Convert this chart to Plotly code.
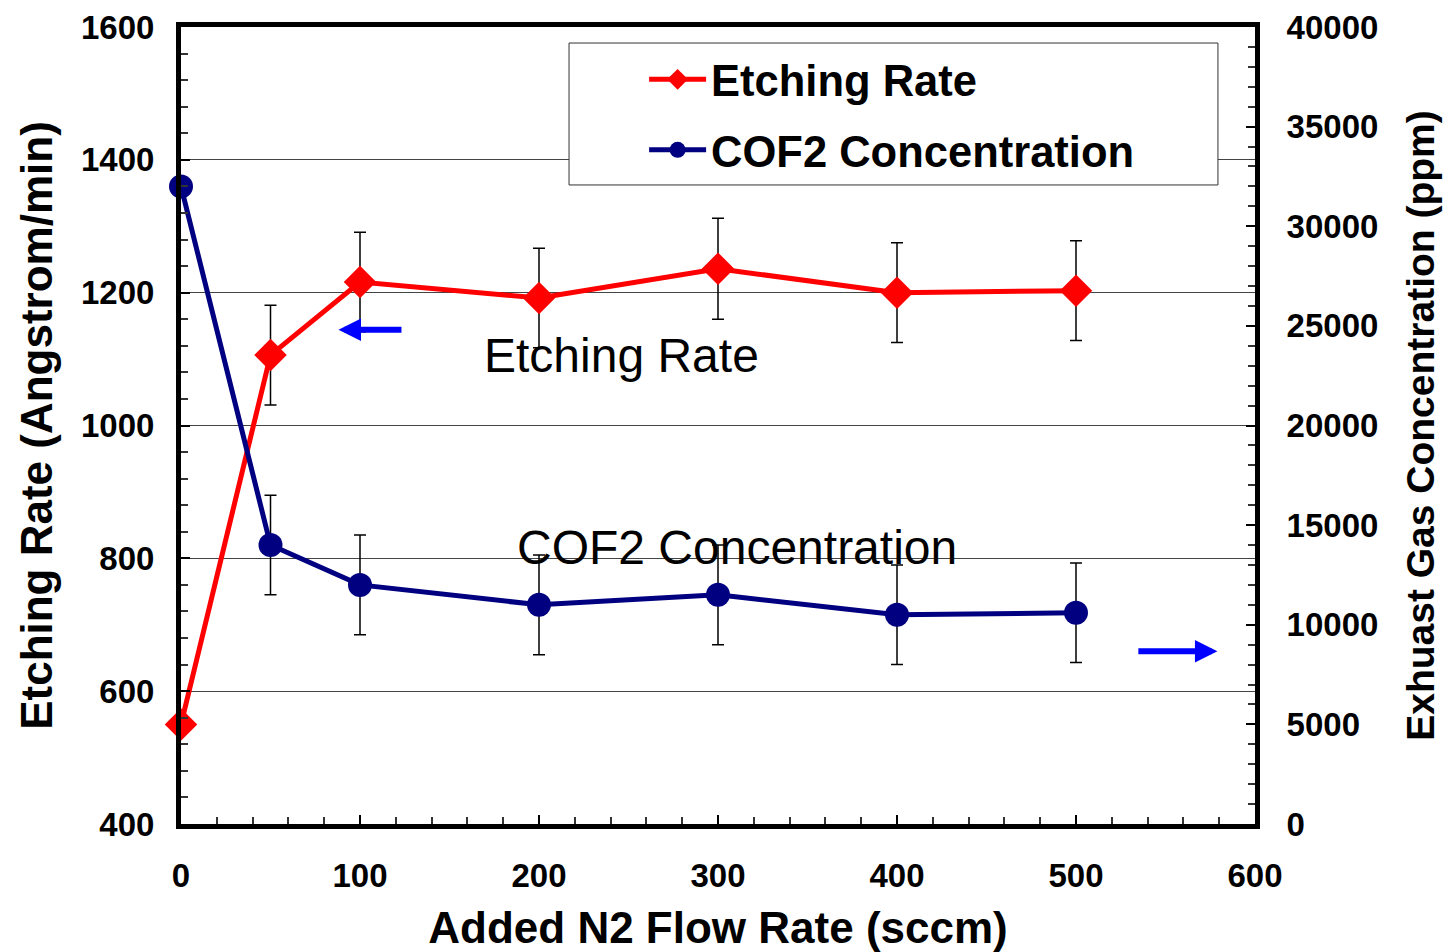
import plotly.graph_objects as go

# ---- data ----
flow = [0, 50, 100, 200, 300, 400, 500]
etch_rate = [550, 1106, 1216, 1192, 1236, 1200, 1203]
etch_err = [0, 75, 75, 75, 76, 75, 75]
cof2 = [32000, 14000, 12000, 11000, 11500, 10500, 10600]
cof2_err = [0, 2500, 2500, 2500, 2500, 2500, 2500]

FONT = "Liberation Sans, Arial, sans-serif"
RED = "#FF0000"
NAVY = "#000080"
BLUE = "#0000FF"

fig = go.Figure()

fig.add_trace(go.Scatter(
    x=flow, y=etch_rate, name="Etching Rate", mode="lines+markers",
    line=dict(color=RED, width=5),
    marker=dict(symbol="diamond", size=25, color=RED),
    error_y=dict(type="data", array=etch_err, visible=True, color="black", thickness=1.5, width=6),
    cliponaxis=False, legendgroup="a", yaxis="y"))

fig.add_trace(go.Scatter(
    x=flow, y=cof2, name="COF2 Concentration", mode="lines+markers",
    line=dict(color=NAVY, width=5),
    marker=dict(symbol="circle", size=24, color=NAVY),
    error_y=dict(type="data", array=cof2_err, visible=True, color="black", thickness=1.5, width=6),
    cliponaxis=False, legendgroup="b", yaxis="y2"))

tickfont = dict(family=FONT, size=33, color="black", weight="bold")
titlefont = dict(family=FONT, size=44, color="black", weight="bold")
titlefont_r = dict(family=FONT, size=39, color="black", weight="bold")

fig.update_layout(
    width=1443, height=952,
    margin=dict(l=181, r=188, t=27, b=128, autoexpand=False),
    paper_bgcolor="white", plot_bgcolor="white",
    showlegend=True,
    legend=dict(
        x=0.4312, y=0.978, xanchor="left", yanchor="top",
        bgcolor="rgba(0,0,0,0)", borderwidth=0,
        font=dict(family=FONT, size=43.5, color="black", weight="bold"),
        itemwidth=57, traceorder="grouped", tracegroupgap=11),
    xaxis=dict(
        range=[0, 600], dtick=100, tickfont=tickfont, automargin=False,
        ticks="inside", ticklen=9, tickwidth=2, tickcolor="black",
        minor=dict(dtick=20, ticks="inside", ticklen=7, tickwidth=1.5, tickcolor="#333"),
        showline=True, linewidth=5, linecolor="black", mirror=True,
        showgrid=False, zeroline=False, ticklabelstandoff=18,
        title=dict(text="Added N2 Flow Rate (sccm)", font=titlefont, standoff=23)),
    yaxis=dict(
        range=[400, 1600], dtick=200, tickfont=tickfont, automargin=False,
        ticks="inside", ticklen=9, tickwidth=2, tickcolor="black",
        minor=dict(dtick=40, ticks="inside", ticklen=7, tickwidth=1.5, tickcolor="#333", showgrid=False),
        showline=True, linewidth=5, linecolor="black",
        showgrid=True, gridcolor="#444", gridwidth=1,
        zeroline=False, ticklabelstandoff=15,
        title=dict(text="Etching Rate (Angstrom/min)", font=titlefont, standoff=16)),
    yaxis2=dict(
        range=[0, 40000], dtick=5000, tickformat="d", tickfont=tickfont, automargin=False,
        overlaying="y", side="right",
        ticks="inside", ticklen=9, tickwidth=2, tickcolor="black",
        minor=dict(dtick=1000, ticks="inside", ticklen=7, tickwidth=1.5, tickcolor="#333", showgrid=False),
        showline=True, linewidth=5, linecolor="black",
        showgrid=False, zeroline=False, ticklabelstandoff=20,
        title=dict(text="Exhuast Gas Concentration (ppm)", font=titlefont_r, standoff=31)),
)

# legend box
fig.add_shape(type="rect", xref="paper", yref="paper",
              x0=0.3613, x1=0.9655, y0=0.8018, y1=0.9799,
              line=dict(color="#333", width=1), fillcolor="white", layer="above")

# in-plot labels
fig.add_annotation(x=246, y=1106, xref="x", yref="y", text="Etching Rate", showarrow=False,
                   font=dict(family=FONT, size=48, color="black"))
fig.add_annotation(x=310.5, y=817, xref="x", yref="y", text="COF2 Concentration", showarrow=False,
                   font=dict(family=FONT, size=48, color="black"))

# direction arrows
fig.add_annotation(x=88, y=1144, ax=124, ay=1144, xref="x", yref="y", axref="x", ayref="y",
                   text="", showarrow=True, arrowhead=2, arrowsize=0.75, arrowwidth=6, arrowcolor=BLUE)
fig.add_annotation(x=579, y=660, ax=534, ay=660, xref="x", yref="y", axref="x", ayref="y",
                   text="", showarrow=True, arrowhead=2, arrowsize=0.75, arrowwidth=6, arrowcolor=BLUE)

fig.write_html("out.html")
